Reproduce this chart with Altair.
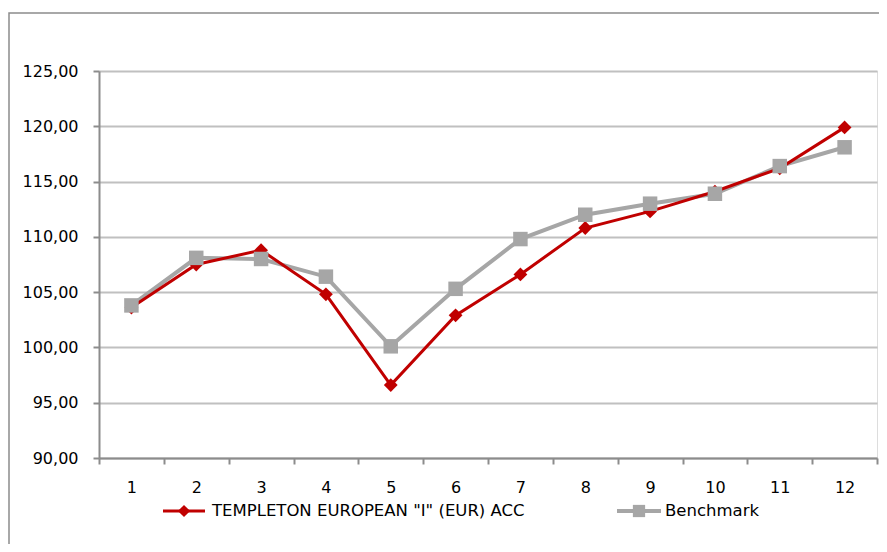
import altair as alt
import pandas as pd

periods = list(range(1, 13))
fund_name = 'TEMPLETON EUROPEAN "I" (EUR) ACC'
bench_name = "Benchmark"
fund_values = [103.6, 107.5, 108.8, 104.8, 96.6, 102.9, 106.6, 110.8, 112.3, 114.1, 116.2, 119.9]
bench_values = [103.8, 108.1, 108.0, 106.4, 100.1, 105.3, 109.8, 112.0, 113.0, 113.9, 116.4, 118.1]
y_ticks = [90, 95, 100, 105, 110, 115, 120, 125]

RED = "#c00000"
GREY = "#a6a6a6"
AXIS = "#8c8c8c"
FONT = "DejaVu Sans"

df = pd.DataFrame({
    "period": periods * 2,
    "value": fund_values + bench_values,
    "series": [fund_name] * 12 + [bench_name] * 12,
})

W, H = 778, 387

x_enc = alt.X(
    "period:O",
    scale=alt.Scale(type="band", paddingInner=0, paddingOuter=0),
    bandPosition=0.5,
    axis=alt.Axis(
        title=None, tickBand="extent", labelAngle=0, grid=False,
        domainColor=AXIS, domainWidth=2, tickColor=AXIS, tickWidth=2, tickSize=6,
        labelPadding=15, labelFont=FONT, labelFontSize=16, labelColor="#000000",
    ),
)
y_enc = alt.Y(
    "value:Q",
    scale=alt.Scale(domain=[90, 125], nice=False, zero=False),
    axis=alt.Axis(
        title=None, values=y_ticks, gridColor="#c0c0c0", gridWidth=2,
        domainColor=AXIS, domainWidth=2, tickColor=AXIS, tickWidth=2, tickSize=6,
        labelPadding=15, labelFont=FONT, labelFontSize=16, labelColor="#000000",
        labelExpr="replace(format(datum.value, '.2f'), '.', ',')",
    ),
)

base = alt.Chart(df)

bench_line = base.transform_filter(alt.datum.series == bench_name).mark_line(
    color=GREY, strokeWidth=4).encode(x=x_enc, y=y_enc)
fund_line = base.transform_filter(alt.datum.series == fund_name).mark_line(
    color=RED, strokeWidth=3).encode(x=x_enc, y=y_enc)
bench_pts = base.transform_filter(alt.datum.series == bench_name).mark_point(
    filled=True, opacity=1, color=GREY, shape="square", size=210).encode(x=x_enc, y=y_enc)
fund_pts = base.transform_filter(alt.datum.series == fund_name).mark_point(
    filled=True, opacity=1, color=RED, shape="diamond", size=190).encode(x=x_enc, y=y_enc)

one = pd.DataFrame({"k": [0]})
lg = alt.Chart(one)
LY = 440
frame = lg.mark_rect(fill=None, stroke=AXIS, strokeWidth=1.5).encode(
    x=alt.value(-90), x2=alt.value(900), y=alt.value(-58), y2=alt.value(700))

leg_fund_rule = lg.mark_rule(color=RED, strokeWidth=3).encode(
    x=alt.value(64), x2=alt.value(106), y=alt.value(LY))
leg_fund_pt = lg.mark_point(filled=True, opacity=1, color=RED, shape="diamond", size=150).encode(
    x=alt.value(85), y=alt.value(LY))
leg_fund_txt = lg.mark_text(align="left", baseline="middle", font=FONT, fontSize=16.5, color="#000000").encode(
    x=alt.value(113), y=alt.value(LY), text=alt.value(fund_name))

leg_b_rule = lg.mark_rule(color=GREY, strokeWidth=4).encode(
    x=alt.value(518), x2=alt.value(562), y=alt.value(LY))
leg_b_pt = lg.mark_point(filled=True, opacity=1, color=GREY, shape="square", size=150).encode(
    x=alt.value(540), y=alt.value(LY))
leg_b_txt = lg.mark_text(align="left", baseline="middle", font=FONT, fontSize=16.5, color="#000000").encode(
    x=alt.value(566), y=alt.value(LY), text=alt.value(bench_name))

chart = alt.layer(
    bench_line, fund_line, fund_pts, bench_pts,
    frame, leg_fund_rule, leg_fund_pt, leg_fund_txt, leg_b_rule, leg_b_pt, leg_b_txt,
).properties(
    width=W, height=H,
    padding={"left": 91, "top": 63, "right": 2, "bottom": 86},
    autosize=alt.AutoSizeParams(type="none"),
).configure_view(stroke=None).configure(background="#ffffff")

chart.save("out.html", embed_options={"renderer": "svg", "actions": False})
